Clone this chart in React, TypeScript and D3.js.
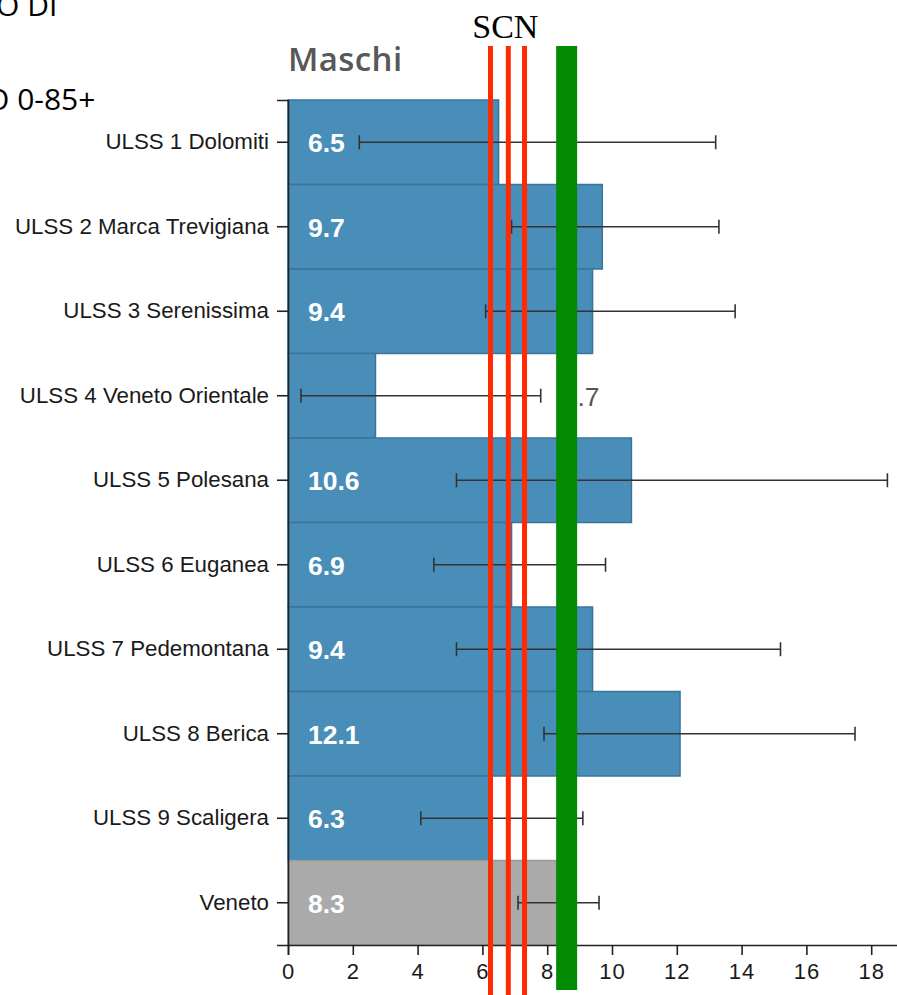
import * as d3 from "d3";
import { useEffect, useMemo, useRef } from "react";

const WIDTH = 897;
const HEIGHT = 995;
const MARGIN = { top: 100, left: 288, bottom: 50 };

const categories = [
  "ULSS 1 Dolomiti",
  "ULSS 2 Marca Trevigiana",
  "ULSS 3 Serenissima",
  "ULSS 4 Veneto Orientale",
  "ULSS 5 Polesana",
  "ULSS 6 Euganea",
  "ULSS 7 Pedemontana",
  "ULSS 8 Berica",
  "ULSS 9 Scaligera",
  "Veneto",
];
const rates = [6.5, 9.7, 9.4, 2.7, 10.6, 6.9, 9.4, 12.1, 6.3, 8.3];
const ciLow = [2.2, 6.9, 6.1, 0.4, 5.2, 4.5, 5.2, 7.9, 4.1, 7.1];
const ciHigh = [13.2, 13.3, 13.8, 7.8, 18.5, 9.8, 15.2, 17.5, 9.1, 9.6];

// overlay annotations drawn on top of the chart
const redLines = [6.25, 6.8, 7.3];
const greenLine = 8.6;

const BLUE = "#488eb9";
const GREY = "#aaaaaa";
const SANS = "'Liberation Sans', Arial, sans-serif";

export default function App() {
  const axesRef = useRef<SVGGElement>(null);
  const plotBottom = HEIGHT - MARGIN.bottom;

  const xScale = useMemo(
    () => d3.scaleLinear().domain([0, 19]).range([MARGIN.left, MARGIN.left + 19 * 32.4]),
    []
  );
  const yScale = useMemo(
    () => d3.scaleBand().domain(categories).range([MARGIN.top, plotBottom]).padding(0),
    []
  );

  useEffect(() => {
    const g = d3.select(axesRef.current);
    g.selectAll("*").remove();

    const yAxis = g
      .append("g")
      .attr("transform", `translate(${MARGIN.left},0)`)
      .call(d3.axisLeft(yScale).tickSize(11).tickPadding(8));
    yAxis.select(".domain").attr("stroke", "#222").attr("stroke-width", 1.6);
    yAxis.selectAll(".tick line").attr("stroke", "#222").attr("stroke-width", 1.6);
    yAxis
      .selectAll(".tick text")
      .attr("fill", "#1a1a1a")
      .attr("font-size", 22.3)
      .attr("font-family", SANS);

    const xAxis = g
      .append("g")
      .attr("transform", `translate(0,${plotBottom})`)
      .call(d3.axisBottom(xScale).ticks(10).tickSize(10).tickPadding(8));
    xAxis.select(".domain").attr("stroke", "#222").attr("stroke-width", 1.6);
    xAxis.selectAll(".tick line").attr("stroke", "#222").attr("stroke-width", 1.6);
    xAxis
      .selectAll(".tick text")
      .attr("fill", "#1a1a1a")
      .attr("font-size", 22)
      .attr("letter-spacing", 1)
      .attr("font-family", SANS);
  }, [xScale, yScale, plotBottom]);

  const band = yScale.bandwidth();

  return (
    <svg
      width={WIDTH}
      height={HEIGHT}
      style={{ position: "absolute", left: 0, top: 0, background: "#fff" }}
    >
      {/* slide text cut off at the left */}
      <g fontFamily="'Open Sans', 'Liberation Sans', sans-serif" fontSize={30} fill="#000">
        <text x={-4} y={16}>O DI</text>
        <text x={-14} y={110}>O 0-85+</text>
      </g>

      <text
        x={MARGIN.left}
        y={71}
        fontFamily="'Open Sans', Lato, sans-serif"
        fontSize={33}
        fontWeight={600}
        letterSpacing={0.4}
        fill="#585858"
      >
        Maschi
      </text>

      {categories.map((c, i) => (
        <rect
          key={c}
          x={xScale(0)}
          y={yScale(c)}
          width={xScale(rates[i]) - xScale(0)}
          height={band}
          fill={c === "Veneto" ? GREY : BLUE}
          stroke={c === "Veneto" ? "#9a9a9a" : "#3a749c"}
          strokeWidth={1.5}
        />
      ))}

      {categories.map((c, i) => {
        const cy = (yScale(c) ?? 0) + band / 2;
        const inside = rates[i] > 4;
        return (
          <text
            key={c}
            x={inside ? xScale(0) + 20 : xScale(ciHigh[i]) + 22}
            y={cy + 10}
            fontFamily={SANS}
            fontSize={26.5}
            fontWeight={inside ? "bold" : "normal"}
            fill={inside ? "#fff" : "#555"}
          >
            {rates[i].toFixed(1)}
          </text>
        );
      })}

      {categories.map((c, i) => {
        const cy = (yScale(c) ?? 0) + band / 2;
        return (
          <g key={c} stroke="#333" strokeWidth={1.6}>
            <line x1={xScale(ciLow[i])} x2={xScale(ciHigh[i])} y1={cy} y2={cy} />
            <line x1={xScale(ciLow[i])} x2={xScale(ciLow[i])} y1={cy - 7} y2={cy + 7} />
            <line x1={xScale(ciHigh[i])} x2={xScale(ciHigh[i])} y1={cy - 7} y2={cy + 7} />
          </g>
        );
      })}

      <g ref={axesRef} />

      {/* annotation overlay */}
      <text
        x={xScale(redLines[1]) - 3}
        y={38}
        textAnchor="middle"
        fontFamily="'Liberation Serif', 'Times New Roman', serif"
        fontSize={34}
        fill="#000"
      >
        SCN
      </text>
      {redLines.map((v) => (
        <line
          key={v}
          x1={xScale(v)}
          x2={xScale(v)}
          y1={46}
          y2={HEIGHT}
          stroke="#ff2a00"
          strokeWidth={5}
        />
      ))}
      <line
        x1={xScale(greenLine)}
        x2={xScale(greenLine)}
        y1={46}
        y2={990}
        stroke="#028a02"
        strokeWidth={21}
      />
    </svg>
  );
}
